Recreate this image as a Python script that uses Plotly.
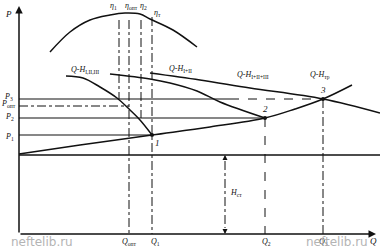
import plotly.graph_objects as go

# ---- data (Q in flow units, P in pressure units; schematic) ----
Q_RANGE = [-19, 361]
P_RANGE = [-14, 234]

H_ST = 79
P1, P2, P_OPT, P3 = 99, 116, 128, 135
Q_OPT, Q1, Q2, Q3 = 110, 133, 246, 304
Q_ETA1, Q_ETA2 = 100, 122

# system curve Q-H_tr
sys_Q = [0, 61, 133, 191, 246, 276, 304, 333]
sys_P = [80, 89, 99, 107, 116, 125, 135, 149]

# single pump curve Q-H_I,II,III
a_Q = [47, 64, 81, 98, 111, 121, 133]
a_P = [158, 156, 147, 136, 124, 114, 99]

# two pumps Q-H_I+II
b_Q = [91, 131, 151, 178, 201, 246]
b_P = [160, 155, 151, 143, 132, 116]

# three pumps Q-H_I+II+III
c_Q = [131, 181, 231, 304, 361]
c_P = [161, 154, 146, 135, 121]

# efficiency curve
eta_Q = [31, 51, 71, 91, 106, 121, 131, 154, 178]
eta_P = [182, 202, 214, 219, 221, 220, 215, 204, 187]
ETA_TOP = 214

op_labels = ["1", "2", "3"]
op_Q = [Q1, Q2, Q3]
op_P = [P1, P2, P3]

FONT = "Liberation Serif"
BLACK = "#111"

fig = go.Figure()

def line(xs, ys, dash="solid", width=1.2, shape="linear"):
    fig.add_trace(go.Scatter(x=xs, y=ys, mode="lines",
                             line=dict(color=BLACK, width=width, dash=dash, shape=shape,
                                       smoothing=1.0 if shape == "spline" else None),
                             hoverinfo="skip", showlegend=False))

# horizontal static head line and pressure levels
line([0, Q_RANGE[1]], [H_ST, H_ST], width=1.3)
line([0, Q1], [P1, P1])
line([0, Q2], [P2, P2])
line([0, Q_OPT], [P_OPT, P_OPT], dash="dashdot", width=1)
line([0, 211], [P3, P3])
line([211, Q3], [P3, P3], dash="dash", width=1)

# vertical guide lines
line([Q_ETA1, Q_ETA1], [ETA_TOP, P3], dash="dashdot", width=1)
line([Q_OPT, Q_OPT], [ETA_TOP, 0], dash="dashdot", width=1)
line([Q_ETA2, Q_ETA2], [ETA_TOP, P2], dash="dashdot", width=1)
line([Q1, Q1], [ETA_TOP + 3, 0], dash="dashdot", width=1)
line([Q2, Q2], [P2, 0], dash="dash", width=1)
line([Q3, Q3], [P3, 0], dash="dashdot", width=1)
line([206, 206], [H_ST - 6, 6], dash="dashdot", width=1)

# curves
line(sys_Q, sys_P, width=1.5, shape="spline")
line(a_Q, a_P, width=1.5, shape="spline")
line(b_Q, b_P, width=1.5, shape="spline")
line(c_Q, c_P, width=1.5, shape="spline")
line(eta_Q, eta_P, width=1.5, shape="spline")

fig.add_trace(go.Scatter(x=op_Q, y=op_P, mode="markers",
                         marker=dict(color=BLACK, size=4),
                         hoverinfo="skip", showlegend=False))

anns = []
def txt(t, x, y, size=9, color=BLACK, family=FONT):
    anns.append(dict(x=x, y=y, text=t, showarrow=False, xref="x", yref="y",
                     font=dict(family=family, size=size, color=color)))

def arrow(x, y, ax, ay, width=1.5):
    anns.append(dict(x=x, y=y, ax=ax, ay=ay, xref="x", yref="y", axref="x", ayref="y",
                     showarrow=True, arrowhead=2, arrowsize=1, arrowwidth=width,
                     arrowcolor=BLACK, text=""))

# axes
arrow(0, 228, 0, 0)
arrow(357, 0, 0, 0)
# H_st arrows
arrow(206, H_ST, 206, H_ST - 6, width=1)
arrow(206, 0, 206, 6, width=1)

txt("<i>P</i>", -11, 220)
txt("<i>P</i><sub>3</sub>", -11, 137, 8)
txt("<i>P</i><sub>опт</sub>", -11, 130, 8)
txt("<i>P</i><sub>2</sub>", -10, 117, 8)
txt("<i>P</i><sub>1</sub>", -10, 97, 8)

txt("<i>η</i><sub>1</sub>", 94, 228, 8)
txt("<i>η</i><sub>опт</sub>", 112, 228, 8)
txt("<i>η</i><sub>2</sub>", 124, 228, 8)
txt("<i>η</i><sub>т</sub>", 138, 221, 8)

txt("<i>Q-H</i><sub>I,II,III</sub>", 66, 164, 8)
txt("<i>Q-H</i><sub>I+II</sub>", 161, 165, 8)
txt("<i>Q-H</i><sub>I+II+III</sub>", 234, 159, 8)
txt("<i>Q-H</i><sub>тр</sub>", 301, 159, 8)

for t, q, p in zip(op_labels, op_Q, op_P):
    dy = -8 if t == "1" else 9
    dx = 5 if t == "1" else 0
    txt("<i>%s</i>" % t, q + dx, p + dy, 9)

txt("<i>H</i><sub>ст</sub>", 217, 41, 8)

txt("<i>Q</i><sub>опт</sub>", Q_OPT, -8, 8)
txt("<i>Q</i><sub>1</sub>", Q1 + 3, -8, 8)
txt("<i>Q</i><sub>2</sub>", Q2 + 1, -8, 8)
txt("<i>Q</i><sub>3</sub>", Q3, -8, 8)
txt("<i>Q</i>", 354, -7, 9)

txt("neftelib.ru", 23, -8, 12, "#b4b4b4", "DejaVu Sans")
txt("neftelib.ru", 318, -8, 12, "#b4b4b4", "DejaVu Sans")

fig.update_layout(
    width=380, height=248,
    margin=dict(l=0, r=0, t=0, b=0),
    paper_bgcolor="white", plot_bgcolor="white",
    xaxis=dict(range=Q_RANGE, visible=False, fixedrange=True),
    yaxis=dict(range=P_RANGE, visible=False, fixedrange=True),
    annotations=anns,
    showlegend=False,
)

fig.write_html("out.html")
